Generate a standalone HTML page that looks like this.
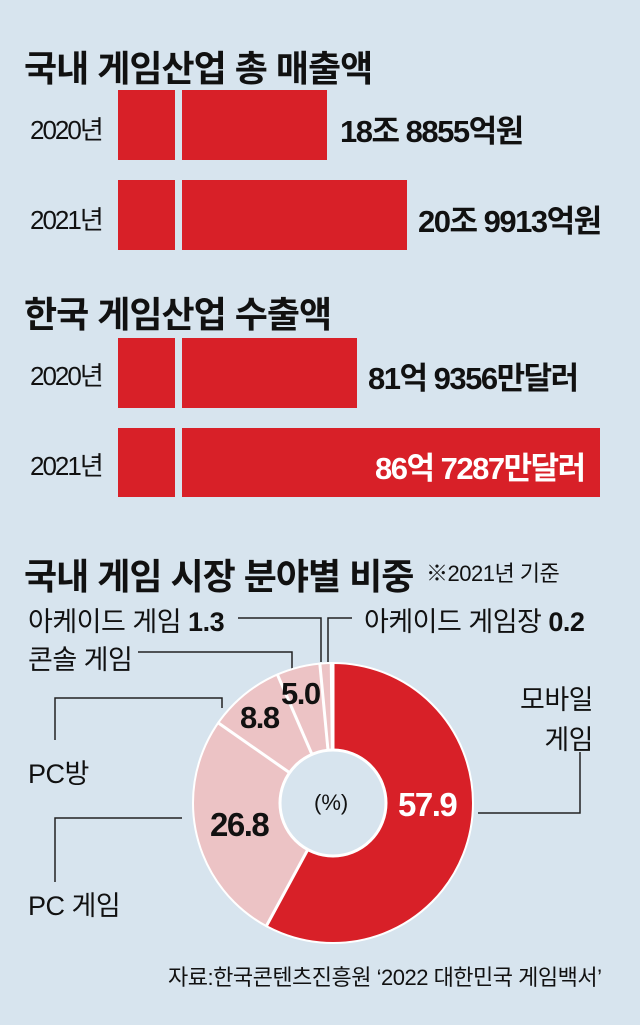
<!DOCTYPE html><html><head><meta charset="utf-8"><style>
body{margin:0;width:640px;height:1025px;background:#d7e4ee;position:relative;overflow:hidden;font-family:"Liberation Sans","Noto Sans CJK KR",sans-serif;color:#111}
.t{position:absolute;white-space:nowrap}
.h{font-size:36px;font-weight:bold;letter-spacing:-1px}
.y{font-size:26px;letter-spacing:-2px}
.v{font-size:31px;font-weight:bold;letter-spacing:-1.5px}
.l{font-size:27px;letter-spacing:-0.5px}
.b{position:absolute;background:#d82028}
</style></head><body>
<div class="t h" style="left:24px;top:40px">국내 게임산업 총 매출액</div>
<div class="t y" style="left:30px;top:110px">2020년</div>
<div class="b" style="left:118px;top:90px;width:57px;height:70px"></div>
<div class="b" style="left:182px;top:90px;width:145px;height:70px"></div>
<div class="t v" style="left:340px;top:106px">18조 8855억원</div>
<div class="t y" style="left:30px;top:200px">2021년</div>
<div class="b" style="left:118px;top:180px;width:57px;height:70px"></div>
<div class="b" style="left:182px;top:180px;width:225px;height:70px"></div>
<div class="t v" style="left:418px;top:196px">20조 9913억원</div>

<div class="t h" style="left:24px;top:286px">한국 게임산업 수출액</div>
<div class="t y" style="left:30px;top:356px">2020년</div>
<div class="b" style="left:118px;top:338px;width:57px;height:70px"></div>
<div class="b" style="left:182px;top:338px;width:175px;height:70px"></div>
<div class="t v" style="left:368px;top:353px">81억 9356만달러</div>
<div class="t y" style="left:30px;top:446px">2021년</div>
<div class="b" style="left:118px;top:428px;width:57px;height:69px"></div>
<div class="b" style="left:182px;top:428px;width:418px;height:69px"></div>
<div class="t v" style="left:375px;top:443px;color:#fff">86억 7287만달러</div>

<div class="t h" style="left:24px;top:548px">국내 게임 시장 분야별 비중</div>
<div class="t" style="left:426px;top:556px;font-size:22px;letter-spacing:-0.5px">※2021년 기준</div>
<div class="t l" style="left:28px;top:600px">아케이드 게임 <b>1.3</b></div>
<div class="t l" style="left:364px;top:600px">아케이드 게임장 <b>0.2</b></div>
<div class="t l" style="left:28px;top:638px">콘솔 게임</div>
<div class="t l" style="left:28px;top:752px">PC방</div>
<div class="t l" style="left:28px;top:884px">PC 게임</div>
<div class="t l" style="left:520px;top:680px;text-align:right;line-height:40px">모바일<br>게임</div>
<svg class="t" style="left:0;top:0" width="640" height="1025">
<g fill="none" stroke="#222" stroke-width="1.5">
<polyline points="238,618 321,618 321,662"/>
<polyline points="352,618 328,618 328,662"/>
<polyline points="138,652 292,652 292,672"/>
<polyline points="55,740 55,698 222,698 222,708"/>
<polyline points="55,882 55,818 182,818"/>
<polyline points="580,752 580,813 478,813"/>
</g>
<g transform="translate(333,803) rotate(-90)">
<circle r="96" fill="none" stroke="#ecc3c5" stroke-width="88"/>
<circle r="96" fill="none" stroke="#d82028" stroke-width="88" stroke-dasharray="349.25 1000"/>
<circle r="53" fill="#d7e4ee"/>
<circle r="140" fill="none" stroke="#fff" stroke-width="2"/>
<circle r="53" fill="none" stroke="#fff" stroke-width="3"/>
<g stroke="#fff" stroke-width="3">
<line x1="52" y1="0" x2="141" y2="0"/>
<line x1="52" y1="0" x2="141" y2="0" transform="rotate(208.44)"/>
<line x1="52" y1="0" x2="141" y2="0" transform="rotate(304.92)"/>
<line x1="52" y1="0" x2="141" y2="0" transform="rotate(336.6)"/>
<line x1="52" y1="0" x2="141" y2="0" transform="rotate(354.6)"/>
<line x1="52" y1="0" x2="141" y2="0" transform="rotate(359.28)"/>
</g></g>
</svg>
<div class="t" style="left:314px;top:790px;font-size:22px">(%)</div>
<div class="t v" style="left:398px;top:786px;color:#fff;font-size:33px">57.9</div>
<div class="t v" style="left:210px;top:806px;font-size:33px">26.8</div>
<div class="t v" style="left:240px;top:700px;font-size:31px">8.8</div>
<div class="t v" style="left:281px;top:676px;font-size:31px">5.0</div>
<div class="t" style="left:168px;top:960px;font-size:22px;letter-spacing:-0.5px">자료:한국콘텐츠진흥원 ‘2022 대한민국 게임백서’</div>
</body></html>
